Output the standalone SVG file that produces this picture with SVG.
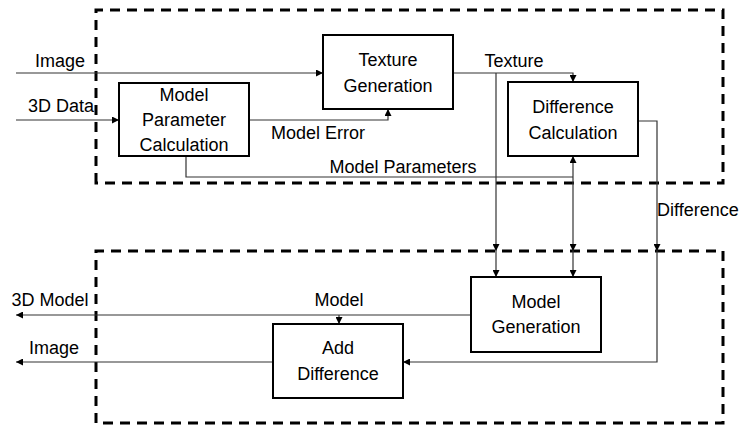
<svg xmlns="http://www.w3.org/2000/svg" width="739" height="425" viewBox="0 0 739 425">
<style>
.dash{fill:none;stroke:#000;stroke-width:3;stroke-dasharray:10 7}
.box{fill:#fff;stroke:#000;stroke-width:2}
.c{fill:none;stroke:#333;stroke-width:1.2}
.a{marker-end:url(#ah)}
text{font-family:"Liberation Sans",Arial,sans-serif;font-size:18px;fill:#000}
.m{text-anchor:middle}
</style>
<defs>
<marker id="ah" viewBox="0 0 10 10" refX="10" refY="5" markerWidth="7" markerHeight="7" markerUnits="userSpaceOnUse" orient="auto">
<path d="M0,0 L10,5 L0,10 z" fill="#000"/>
</marker>
</defs>
<g id="groups">
<path class="dash" d="M96,183 L96,10 L723,10 L723,183 Z"/>
<path class="dash" d="M96,423 L96,251 L723,251 L723,423 Z"/>
</g>
<g id="connectors">
<path class="c a" d="M16,73 L323,73"/>
<path class="c a" d="M16,120 L119,120"/>
<path class="c a" d="M249,120 L388,120 L388,109"/>
<path class="c a" d="M453,73 L573,73 L573,82"/>
<path class="c a" d="M496,73 L496,251"/>
<path class="c a" d="M496,251 L496,277"/>
<path class="c" d="M186,156 L186,177 L573,177"/>
<path class="c a" d="M573,177 L573,156"/>
<path class="c a" d="M573,177 L573,251"/>
<path class="c a" d="M573,251 L573,277"/>
<path class="c a" d="M638,121 L657,121 L657,251"/>
<path class="c a" d="M657,251 L657,362 L403,362"/>
<path class="c a" d="M471,315 L16,315"/>
<path class="c a" d="M339,315 L339,324"/>
<path class="c a" d="M273,362 L16,362"/>
</g>
<g id="texture-generation">
<rect class="box" x="323" y="35" width="130" height="74"/>
<text class="m" x="388" y="66">Texture</text>
<text class="m" x="388" y="92">Generation</text>
</g>
<g id="model-parameter-calculation">
<rect class="box" x="119" y="83" width="130" height="73"/>
<text class="m" x="184" y="101">Model</text>
<text class="m" x="184" y="126">Parameter</text>
<text class="m" x="184" y="151">Calculation</text>
</g>
<g id="difference-calculation">
<rect class="box" x="508" y="82" width="130" height="74"/>
<text class="m" x="573" y="113">Difference</text>
<text class="m" x="573" y="139">Calculation</text>
</g>
<g id="model-generation">
<rect class="box" x="471" y="277" width="130" height="75"/>
<text class="m" x="536" y="308">Model</text>
<text class="m" x="536" y="333">Generation</text>
</g>
<g id="add-difference">
<rect class="box" x="273" y="324" width="130" height="74"/>
<text class="m" x="338" y="354">Add</text>
<text class="m" x="338" y="380">Difference</text>
</g>
<g id="labels">
<text class="m" x="60" y="67">Image</text>
<text class="m" x="61" y="112">3D Data</text>
<text class="m" x="514" y="67">Texture</text>
<text class="m" x="318" y="139">Model Error</text>
<text class="m" x="403" y="173">Model Parameters</text>
<text x="657" y="216">Difference</text>
<text class="m" x="50" y="306">3D Model</text>
<text class="m" x="339" y="306">Model</text>
<text class="m" x="54" y="354">Image</text>
</g>
</svg>
